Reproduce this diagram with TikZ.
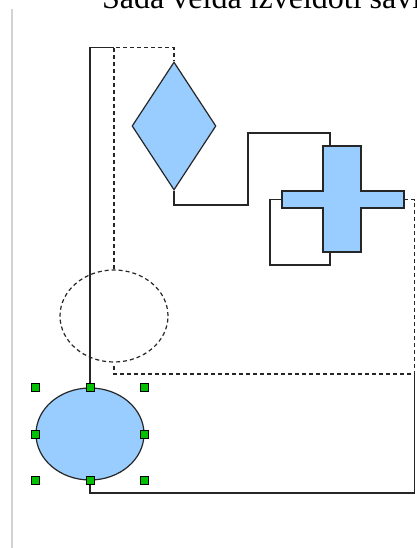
\documentclass[tikz,border=0pt]{standalone}
\usepackage{fontspec}
\setmainfont{Liberation Serif}
\usetikzlibrary{shapes.geometric}
\definecolor{shapefill}{HTML}{99CCFF}
\definecolor{linecol}{HTML}{262626}
\definecolor{handlegreen}{HTML}{00C000}
\definecolor{rulegray}{HTML}{D3D3D3}
\tikzset{
  conn/.style={draw=linecol, line width=1.2pt},
  ghost/.style={draw=linecol, line width=1.2pt, dash pattern=on 4pt off 3pt},
  shapebox/.style={draw=linecol, line width=1.2pt, fill=shapefill},
  handle/.style={draw=black, fill=handlegreen, line width=1pt, minimum size=8pt, inner sep=0pt, rectangle},
}
\begin{document}
\begin{tikzpicture}[x=1pt,y=-1pt]
\useasboundingbox (0,0) rectangle (416,548);
\clip (0,0) rectangle (416,548);
\node[anchor=base west, inner sep=0pt, font=\fontsize{32}{38}\selectfont, text=black] (title) at (102,8.5) {Šādā veidā izveidoti savienotāji};
\draw[rulegray, line width=2pt] (12,9) -- (12,548);

% shapes
\node[shapebox, diamond, minimum width=84pt, minimum height=128pt, inner sep=0pt] (dia) at (174,126) {};
\node[ghost, ellipse, minimum width=108pt, minimum height=92pt, inner sep=0pt] (ghostel) at (114,316) {};
\node[shapebox, ellipse, minimum width=108pt, minimum height=92pt, inner sep=0pt] (el) at (90,434) {};
\draw[shapebox] (323,146) -- (361,146) -- (361,191) -- (404,191) -- (404,208) -- (361,208)
  -- (361,252) -- (323,252) -- (323,208) -- (282,208) -- (282,191) -- (323,191) -- cycle;
\coordinate (crossN) at (330,146);
\coordinate (crossS) at (330,252);
\coordinate (crossW) at (282,199.5);
\coordinate (crossE) at (404,199.5);

% bend points
\coordinate (topL) at (90,47.5);
\coordinate (topM) at (114,47.5);
\coordinate (topR) at (174,47.5);
\coordinate (midA) at (248,205);
\coordinate (midB) at (248,133);
\coordinate (midC) at (330,133);
\coordinate (loopA) at (270,199.5);
\coordinate (loopB) at (270,265);
\coordinate (loopC) at (330,265);
\coordinate (rightA) at (414.5,199.5);
\coordinate (rightB) at (414.5,374);
\coordinate (rightC) at (114,374);
\coordinate (botA) at (90,493);
\coordinate (botB) at (414.5,493);

% connectors
\draw[conn] (el.north) -- (topL) -- (topM);
\draw[ghost] (ghostel.north) -- (topM) -- (topR) -- (dia.north);
\draw[conn] (dia.south) |- (midA) -- (midB) -- (midC) -- (crossN);
\draw[conn] (crossW) -- (loopA) -- (loopB) -- (loopC) -- (crossS);
\draw[ghost] (crossE) -- (rightA) -- (rightB) -- (rightC) -- (ghostel.south);
\draw[conn] (el.south) -- (botA) -- (botB) -- (rightB);

% selection handles
\node[handle] (h1) at (el.west |- el.north) {};
\node[handle] (h2) at (el.north) {};
\node[handle] (h3) at (el.east |- el.north) {};
\node[handle] (h4) at (el.west) {};
\node[handle] (h5) at (el.east) {};
\node[handle] (h6) at (el.west |- el.south) {};
\node[handle] (h7) at (el.south) {};
\node[handle] (h8) at (el.east |- el.south) {};
\end{tikzpicture}
\end{document}
